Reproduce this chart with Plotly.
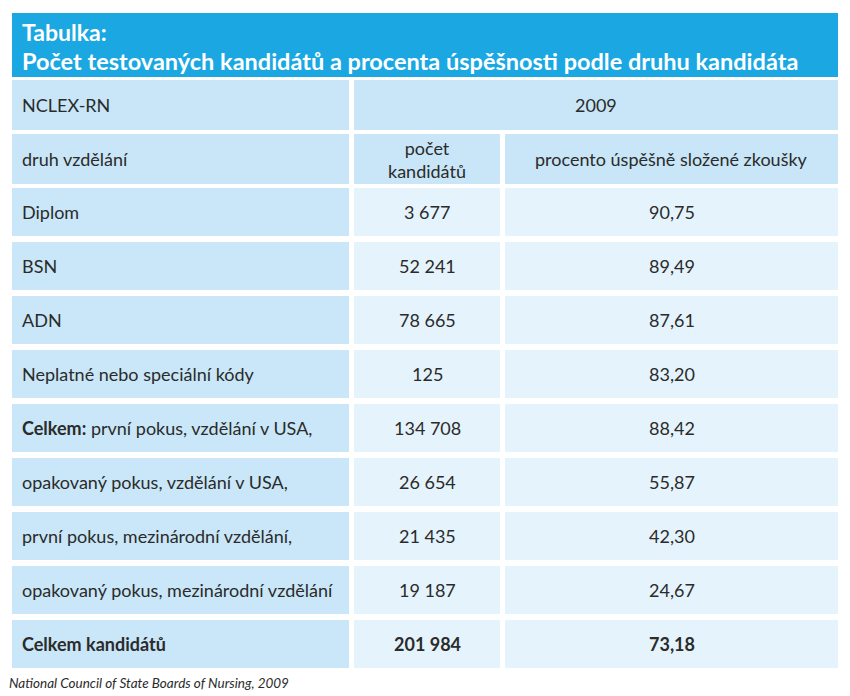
import plotly.graph_objects as go

# ---- data ----
title_line1 = "Tabulka:"
title_line2 = "Počet testovaných kandidátů a procenta úspěšnosti podle druhu kandidáta"
header_exam = "NCLEX-RN"
header_year = "2009"
col_headers = ["druh vzdělání", "počet<br>kandidátů", "procento úspěšně složené zkoušky"]
categories = [
    "Diplom",
    "BSN",
    "ADN",
    "Neplatné nebo speciální kódy",
    "<b>Celkem:</b> první pokus, vzdělání v USA,",
    "opakovaný pokus, vzdělání v USA,",
    "první pokus, mezinárodní vzdělání,",
    "opakovaný pokus, mezinárodní vzdělání",
    "<b>Celkem kandidátů</b>",
]
counts = [3677, 52241, 78665, 125, 134708, 26654, 21435, 19187, 201984]
pass_rates = [90.75, 89.49, 87.61, 83.20, 88.42, 55.87, 42.30, 24.67, 73.18]
bold_rows = [False] * 8 + [True]
source = "National Council of State Boards of Nursing, 2009"

# ---- layout constants ----
# the page body has an 8px margin, so the figure is offset by 8px
OFF = 8
W, H = 850 - 2 * OFF, 696 - OFF
FONT = "Lato"
TXT = "#2b2b2b"
BLUE = "#1ba8e2"
HEAD = "#c8e6f7"
COL1 = "#c9e7f8"
CELL = "#e4f3fc"
cols = [(12, 349), (354, 500), (505, 838)]
row_top0, row_h, row_pitch = 188, 48, 54
FS = 18

fig = go.Figure()
shapes = []
ann = []

def rect(x0, x1, y0, y1, color):
    shapes.append(dict(type="rect", xref="x", yref="y", x0=x0, x1=x1, y0=y0, y1=y1,
                       fillcolor=color, line=dict(width=0), layer="below"))

def text(x, y, s, anchor="left", size=FS, color=TXT, bold=False, italic=False):
    if bold:
        s = "<b>" + s + "</b>"
    if italic:
        s = "<i>" + s + "</i>"
    ann.append(dict(x=x, y=y, xref="x", yref="y", text=s, showarrow=False,
                    xanchor=anchor, yanchor="middle", align="center",
                    font=dict(family=FONT, size=size, color=color)))

# title bar
rect(12, 838, 13, 77, BLUE)
text(20, 32, title_line1, size=23, color="white", bold=True)
text(20, 61, title_line2, size=23.5, color="white", bold=True)

# header row 1
rect(cols[0][0], cols[0][1], 80, 130, HEAD)
rect(cols[1][0], cols[2][1], 80, 130, HEAD)
text(20, 105, header_exam)
text((cols[1][0] + cols[2][1]) / 2, 105, header_year, anchor="center")

# header row 2
for x0, x1 in cols:
    rect(x0, x1, 134, 184, HEAD)
text(20, 159, col_headers[0])
text((cols[1][0] + cols[1][1]) / 2, 159, col_headers[1], anchor="center")
text((cols[2][0] + cols[2][1]) / 2, 159, col_headers[2], anchor="center")

def fmt_count(v):
    return f"{v:,}".replace(",", " ")

def fmt_rate(v):
    return f"{v:.2f}".replace(".", ",")

for i, (cat, n, r, b) in enumerate(zip(categories, counts, pass_rates, bold_rows)):
    y0 = row_top0 + i * row_pitch
    y1 = y0 + row_h
    ym = (y0 + y1) / 2
    rect(cols[0][0], cols[0][1], y0, y1, COL1)
    rect(cols[1][0], cols[1][1], y0, y1, CELL)
    rect(cols[2][0], cols[2][1], y0, y1, CELL)
    text(20, ym, cat)
    text((cols[1][0] + cols[1][1]) / 2, ym, fmt_count(n), anchor="center", bold=b)
    text((cols[2][0] + cols[2][1]) / 2, ym, fmt_rate(r), anchor="center", bold=b)

# source note, in paper coordinates near the bottom edge
ann.append(dict(x=(7 - OFF) / W, y=(OFF + H - 683) / H, xref="paper", yref="paper",
                text="<i>" + source + "</i>", showarrow=False,
                xanchor="left", yanchor="middle",
                font=dict(family=FONT, size=13.5, color=TXT)))

fig.update_layout(
    width=W, height=H,
    margin=dict(l=0, r=0, t=0, b=0),
    paper_bgcolor="white", plot_bgcolor="white",
    xaxis=dict(range=[OFF, OFF + W], visible=False, fixedrange=True),
    yaxis=dict(range=[OFF + H, OFF], visible=False, fixedrange=True),
    shapes=shapes, annotations=ann, showlegend=False,
)
fig.write_html("out.html")
